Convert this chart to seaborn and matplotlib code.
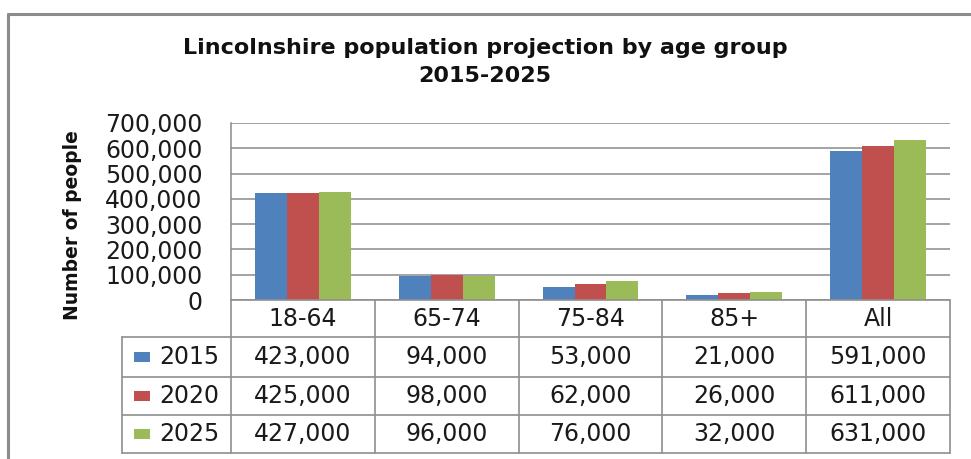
import matplotlib
matplotlib.use("Agg")
import matplotlib.pyplot as plt
from matplotlib.lines import Line2D
from matplotlib.patches import Rectangle
import seaborn as sns
import pandas as pd

# ---- data ----
categories = ["18-64", "65-74", "75-84", "85+", "All"]
years = ["2015", "2020", "2025"]
values_2015 = [423000, 94000, 53000, 21000, 591000]
values_2020 = [425000, 98000, 62000, 26000, 611000]
values_2025 = [427000, 96000, 76000, 32000, 631000]
y_ticks = [0, 100000, 200000, 300000, 400000, 500000, 600000, 700000]
title = "Lincolnshire population projection by age group\n2015-2025"
y_label = "Number of people"

colors = ["#4F81BD", "#C0504D", "#9BBB59"]
series = {"2015": values_2015, "2020": values_2020, "2025": values_2025}

rows = []
for yr in years:
    for cat, v in zip(categories, series[yr]):
        rows.append({"Category": cat, "Year": yr, "Value": v})
df = pd.DataFrame(rows)

sns.set_theme(style="white")
plt.rcParams["font.family"] = ["DejaVu Sans"]

W, H = 971, 459
fig = plt.figure(figsize=(W / 100, H / 100), dpi=100)
fig.patch.set_facecolor("white")


def fx(px):
    return px / W


def fy(py):
    return 1 - py / H


ax = fig.add_axes([fx(231), fy(300), fx(950) - fx(231), fy(123) - fy(300)])
sns.barplot(data=df, x="Category", y="Value", hue="Year", order=categories,
            hue_order=years, palette=colors, saturation=1, width=0.667,
            legend=False, ax=ax, edgecolor="none")

ax.set_xlim(-0.5, len(categories) - 0.5)
ax.set_ylim(0, 700000)
ax.set_yticks(y_ticks)
ax.set_yticklabels([f"{v:,}" for v in y_ticks])
ax.set_xticks([])
ax.set_xlabel("")
ax.set_ylabel("")
ax.yaxis.grid(True, color="#8a8a8a", linewidth=1.1)
ax.set_axisbelow(True)
for s in ["top", "right", "bottom"]:
    ax.spines[s].set_visible(False)
ax.spines["left"].set_color("#8a8a8a")
ax.spines["left"].set_linewidth(1.1)
ax.tick_params(axis="y", length=0, pad=20.5, labelsize=17, labelcolor="#1a1a1a")
ax.set_facecolor("white")

# ---- title / axis label ----
fig.text(fx(485), fy(62), title, ha="center", va="center", fontsize=16,
         fontweight="bold", linespacing=1.45, color="#111111")
fig.text(fx(72), fy(225), y_label, rotation=90, ha="center", va="center",
         fontsize=13.5, fontweight="bold", color="#111111")

# ---- outer chart border ----
bc = "#8c8c8c"
fig.add_artist(Line2D([fx(8), 1.0], [fy(14), fy(14)], color=bc, lw=2.2,
                      transform=fig.transFigure))
fig.add_artist(Line2D([fx(8), fx(8)], [fy(14), 0.0], color=bc, lw=2.2,
                      transform=fig.transFigure))

# ---- data table ----
fig.canvas.draw()
inv = fig.transFigure.inverted()
col_edges = []
for i in range(len(categories) + 1):
    disp = ax.transData.transform((i - 0.5, 0))
    col_edges.append(inv.transform(disp)[0])
col_centers = [(col_edges[i] + col_edges[i + 1]) / 2 for i in range(len(categories))]

tc = "#8f8f8f"
tlw = 1.2
row_lines = [300, 337, 377, 415, 453]
legend_left = fx(122)
fig.add_artist(Line2D([col_edges[0], col_edges[-1]], [fy(300), fy(300)],
                      color=tc, lw=tlw, transform=fig.transFigure))
for py in row_lines[1:]:
    fig.add_artist(Line2D([legend_left, col_edges[-1]], [fy(py), fy(py)],
                          color=tc, lw=tlw, transform=fig.transFigure))
for xe in col_edges:
    fig.add_artist(Line2D([xe, xe], [fy(300), fy(453)], color=tc, lw=tlw,
                          transform=fig.transFigure))
fig.add_artist(Line2D([legend_left, legend_left], [fy(337), fy(453)], color=tc,
                      lw=tlw, transform=fig.transFigure))

txt_kw = dict(ha="center", va="center", fontsize=17, color="#1a1a1a")
for c, xc in zip(categories, col_centers):
    fig.text(xc, fy(319), c, **txt_kw)

row_centers = [357, 396, 434]
for yr, col, rc in zip(years, colors, row_centers):
    fig.add_artist(Rectangle((fx(134), fy(rc + 5)), fx(150) - fx(134),
                             fy(rc - 5) - fy(rc + 5), facecolor=col,
                             edgecolor="none", transform=fig.transFigure))
    fig.text(fx(159), fy(rc), yr, ha="left", va="center", fontsize=17,
             color="#1a1a1a")
    for v, xc in zip(series[yr], col_centers):
        fig.text(xc, fy(rc), f"{v:,}", **txt_kw)

fig.savefig("out.png", dpi=100, facecolor="white")
